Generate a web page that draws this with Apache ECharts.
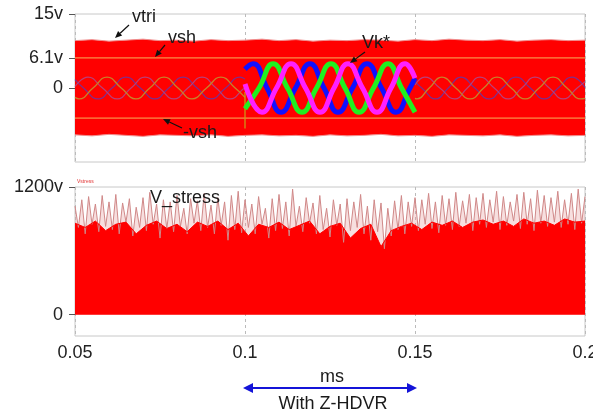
<!DOCTYPE html>
<html>
<head>
<meta charset="utf-8">
<script src="https://cdn.jsdelivr.net/npm/echarts@6/dist/echarts.min.js"></script>
<style>
html, body { margin: 0; padding: 0; background: #fff; }
#main { width: 593px; height: 411px; }
</style>
</head>
<body>
<div id="main"></div>
<script>
// ---- data ----
var xTicks = [0.05, 0.1, 0.15, 0.2];
var topTicks = [0, 6.1, 15];
var topTickNames = { '0': '0', '6.1': '6.1v', '15': '15v' };
var stressTicks = [0, 1200];
var stressTickNames = { '0': '0', '1200': '1200v' };

// carrier (vtri) envelope, one value every 0.005 ms from 0.05
var vtriStart = 0.05, vtriStep = 0.005;
var vtriTop = [9.6, 9.8, 9.5, 9.7, 9.9, 9.6, 9.7, 9.5, 9.8, 9.6, 9.7,
  9.9, 9.6, 9.8, 9.5, 9.7, 9.6, 9.8, 9.7, 9.5, 9.8,
  9.6, 9.9, 9.7, 9.6, 9.8, 9.5, 9.7, 9.8, 9.6, 9.7];
var vtriBottom = [-9.5, -9.7, -9.4, -9.6, -9.8, -9.5, -9.6, -9.7, -9.5, -9.8, -9.6,
  -9.5, -9.7, -9.6, -9.8, -9.5, -9.7, -9.6, -9.4, -9.7, -9.6,
  -9.8, -9.5, -9.6, -9.7, -9.5, -9.8, -9.6, -9.5, -9.7, -9.6];
var vsh = 6.1;

// reference sines before the sag (0.05 - 0.1)
var orangePre = [[0.05, -1.9], [0.0512, -2.2], [0.0553, 0], [0.0594, 2.2], [0.0636, 0], [0.0679, -2.2], [0.0720, 0],
  [0.0762, 2.2], [0.0803, 0], [0.0844, -2.2], [0.0887, 0], [0.0929, 2.2], [0.0971, 0], [0.1, -1.9]];
var purplePre = [[0.05, 1.7], [0.0525, 0], [0.0568, -2.2], [0.0609, 0], [0.0650, 2.2], [0.0692, 0], [0.0735, -2.2],
  [0.0776, 0], [0.0818, 2.2], [0.0859, 0], [0.0900, -2.2], [0.0943, 0], [0.0985, 2.2], [0.1, 1.8]];
var magentaPre = [[0.05, 0.3], [0.0538, 2.2], [0.0581, 0], [0.0624, -2.2], [0.0665, 0], [0.0706, 2.2], [0.0748, 0],
  [0.0791, -2.2], [0.0832, 0], [0.0874, 2.2], [0.0915, 0], [0.0956, -2.2], [0.0998, 0], [0.1, 0.1]];

// reference sines after the sag (0.15 - 0.2)
var orangePost = [[0.15, -2.1], [0.1505, -2.2], [0.1542, 0], [0.1579, 2.2], [0.1620, 0], [0.1662, -2.2], [0.1702, 0],
  [0.1741, 2.2], [0.1783, 0], [0.1824, -2.2], [0.1865, 0], [0.1906, 2.2], [0.1947, 0], [0.1988, -2.2], [0.2, -2.1]];
var purplePost = [[0.15, 1.3], [0.1520, 0], [0.1561, -2.2], [0.1598, 0], [0.1635, 2.2], [0.1676, 0], [0.1718, -2.2],
  [0.1757, 0], [0.1797, 2.2], [0.1839, 0], [0.1880, -2.2], [0.1921, 0], [0.1962, 2.2], [0.2, 0.1]];
var magentaPost = [[0.15, 0.6], [0.1529, 2.2], [0.1573, 0], [0.1617, -2.2], [0.1654, 0], [0.1691, 2.2], [0.1733, 0],
  [0.1774, -2.2], [0.1814, 0], [0.1853, 2.2], [0.1895, 0], [0.1936, -2.2], [0.1977, 0], [0.2, 1.3]];

// Vk* references while Z-HDVR is on (0.1 - 0.15)
var vkBlue = [[0.1, 3.8], [0.10235, 4.9], [0.10647, 0], [0.11059, -4.9], [0.11485, 0], [0.11912, 4.9], [0.12324, 0],
  [0.12735, -4.9], [0.13162, 0], [0.13588, 4.9], [0.14015, 0], [0.14441, -4.9], [0.14853, 0], [0.15, 2]];
var vkGreen = [[0.1, -4.2], [0.10412, 0], [0.10824, 4.9], [0.1125, 0], [0.11676, -4.9], [0.12103, 0], [0.12529, 4.9],
  [0.12941, 0], [0.13353, -4.9], [0.13779, 0], [0.14206, 4.9], [0.14603, 0], [0.15, -4.9]];
var vkPink = [[0.1, 0.8], [0.1050, -4.9], [0.10926, 0], [0.11353, 4.9], [0.11779, 0], [0.12206, -4.9], [0.12618, 0],
  [0.13029, 4.9], [0.13456, 0], [0.13882, -4.9], [0.14294, 0], [0.14706, 4.9], [0.15, 2]];
var stepLine = [[0.1, -0.8], [0.1, -8.2]];

// V_stress spikes, one value every 0.001 ms from 0.05
var stressStart = 0.05, stressStep = 0.001;
var stressPeak = [
  1020, 820, 1080, 760, 1110, 850, 1040, 780, 1120, 830,
  1060, 800, 1130, 760, 1050, 870, 1090, 740, 1010, 820,
  1100, 790, 1150, 850, 1040, 720, 1080, 810, 1060, 780,
  1120, 830, 1000, 760, 1090, 860, 1070, 790, 1140, 820,
  1030, 760, 1100, 840, 1060, 700, 1120, 800, 1160, 770,
  1080, 820, 1040, 760, 1110, 850, 1000, 720, 1090, 790,
  1130, 810, 1060, 740, 1180, 830, 1020, 780, 1100, 860,
  1050, 760, 1120, 800, 1000, 730, 1080, 840, 1040, 680,
  1090, 790, 1060, 820, 1130, 760, 1020, 700, 1080, 780,
  1050, 620, 1000, 740, 1070, 800, 1120, 760, 1060, 830,
  1100, 790, 1080, 850, 1140, 810, 1060, 770, 1120, 840,
  1090, 800, 1150, 830, 1070, 860, 1130, 790, 1100, 850,
  1140, 820, 1080, 870, 1160, 800, 1110, 840, 1060, 880,
  1130, 810, 1150, 850, 1090, 790, 1170, 860, 1120, 830,
  1100, 870, 1160, 820, 1080, 850, 1140, 800, 1180, 860,
  1110
];
// solid part of V_stress, one value every 0.003 ms from 0.05
var fillStart = 0.05, fillStep = 0.003;
var stressFill = [860, 820, 880, 790, 850, 870, 760, 840, 880, 810,
  850, 780, 870, 830, 880, 800, 860, 740, 850, 820,
  870, 800, 840, 880, 760, 830, 860, 720, 810, 850,
  640, 790, 830, 860, 800, 870, 840, 880, 820, 870,
  890, 850, 880, 830, 900, 860, 880, 840, 900, 870, 880];

function pairs(start, step, arr) {
  return arr.map(function (v, i) { return [+(start + i * step).toFixed(4), v]; });
}

var dom = document.getElementById('main');
var myChart = echarts.init(dom);

var fontFam = '"Liberation Sans", Arial, sans-serif';

function ln(data, color, width, gi, extra) {
  var s = {
    type: 'line',
    data: data,
    xAxisIndex: gi,
    yAxisIndex: gi,
    symbol: 'none',
    silent: true,
    lineStyle: { color: color, width: width }
  };
  for (var k in extra) s[k] = extra[k];
  return s;
}

function xAx(gi, showLabel) {
  return {
    type: 'value', gridIndex: gi, min: 0.05, max: 0.2, interval: 0.05,
    axisLine: { show: false },
    axisTick: { show: false },
    axisLabel: {
      show: showLabel, customValues: xTicks, margin: 8,
      color: '#222', fontSize: 18, fontFamily: fontFam,
      formatter: function (v) { return String(+v.toFixed(2)); }
    },
    splitLine: { show: true, lineStyle: { color: '#bbb', type: [3, 3], width: 1 } }
  };
}

function yAx(gi, min, max, ticks, names) {
  return {
    type: 'value', gridIndex: gi, min: min, max: max,
    axisLine: { show: false },
    axisTick: { show: true, customValues: ticks, length: 6, lineStyle: { color: '#555' } },
    axisLabel: {
      customValues: ticks, margin: 12,
      color: '#222', fontSize: 18, fontFamily: fontFam,
      formatter: function (v) { return names[String(v)]; }
    },
    splitLine: { show: false }
  };
}

var option = {
  animation: false,
  backgroundColor: '#fff',
  grid: [
    { left: 75, right: 8, top: 14, height: 148, show: true, borderColor: '#c8c8c8', borderWidth: 1,
      outerBoundsMode: 'none', containLabel: false },
    { left: 75, right: 8, top: 187, height: 149, show: true, borderColor: '#c8c8c8', borderWidth: 1,
      outerBoundsMode: 'none', containLabel: false }
  ],
  xAxis: [xAx(0, false), xAx(1, true)],
  yAxis: [yAx(0, -15, 15, topTicks, topTickNames), yAx(1, -200, 1200, stressTicks, stressTickNames)],
  series: [
    ln(pairs(vtriStart, vtriStep, vtriTop), '#f08c8c', 1, 0, { areaStyle: { color: '#ff0000', opacity: 1 } }),
    ln(pairs(vtriStart, vtriStep, vtriBottom), '#f08c8c', 1, 0, { areaStyle: { color: '#ff0000', opacity: 1 } }),
    ln([[0.05, vsh], [0.2, vsh]], '#f7b25a', 1, 0),
    ln([[0.05, -vsh], [0.2, -vsh]], '#f7b25a', 1, 0),
    ln(purplePre, '#7a3090', 1.2, 0, { smooth: true }),
    ln(magentaPre, '#b8407a', 1.2, 0, { smooth: true }),
    ln(orangePre, '#c8802a', 1.4, 0, { smooth: true }),
    ln(purplePost, '#7a3090', 1.2, 0, { smooth: true }),
    ln(magentaPost, '#b8407a', 1.2, 0, { smooth: true }),
    ln(orangePost, '#c8802a', 1.4, 0, { smooth: true }),
    ln(stepLine, '#c8a21a', 1.2, 0),
    ln(vkBlue, '#1010ff', 5, 0, { smooth: true }),
    ln(vkGreen, '#20f020', 5, 0, { smooth: true }),
    ln(vkPink, '#ff20ff', 5, 0, { smooth: true }),
    ln(pairs(stressStart, stressStep, stressPeak), '#d08888', 1, 1, {
      areaStyle: { color: 'rgba(225,140,140,0.4)' }
    }),
    ln(pairs(fillStart, fillStep, stressFill), '#ff0000', 1, 1, { areaStyle: { color: '#ff0000', opacity: 1 } })
  ]
};
myChart.setOption(option);

// ---- annotations ----
function arrow(x1, y1, x2, y2, color, w, hl, hw) {
  var dx = x2 - x1, dy = y2 - y1, len = Math.sqrt(dx * dx + dy * dy);
  var ux = dx / len, uy = dy / len;
  var bx = x2 - ux * hl, by = y2 - uy * hl;
  return [
    { type: 'line', silent: true, z: 100, shape: { x1: x1, y1: y1, x2: bx, y2: by }, style: { stroke: color, lineWidth: w } },
    { type: 'polygon', silent: true, z: 100, shape: { points: [[x2, y2], [bx - uy * hw, by + ux * hw], [bx + uy * hw, by - ux * hw]] },
      style: { fill: color } }
  ];
}
function label(x, y, text, align, size, color) {
  return { type: 'text', silent: true, z: 100, style: {
    x: x, y: y, text: text, align: align || 'left', verticalAlign: 'middle',
    fontSize: size || 18, fontFamily: fontFam, fill: color || '#1a1a1a' } };
}

var xa = myChart.convertToPixel({ xAxisIndex: 1 }, 0.1);
var xb = myChart.convertToPixel({ xAxisIndex: 1 }, 0.15);
var xm = (xa + xb) / 2;

var g = [];
g.push(label(132, 17, 'vtri'));
g.push(label(168, 38, 'vsh'));
g.push(label(183, 133, '-vsh'));
g.push(label(362, 43, 'Vk*'));
g.push(label(150, 198, 'V_stress'));
g.push(label(77, 182, 'Vstress', 'left', 5, '#e03030'));
g.push(label(xm + 2, 377, 'ms', 'center'));
g.push(label(xm + 3, 404, 'With Z-HDVR', 'center'));
g = g.concat(arrow(129, 25, 115, 38, '#111', 1.2, 7, 3));
g = g.concat(arrow(165, 45, 155, 57, '#111', 1.2, 7, 3));
g = g.concat(arrow(182, 128, 163, 119, '#111', 1.2, 7, 3));
g = g.concat(arrow(365, 52, 350, 63, '#111', 1.2, 7, 3));
g = g.concat(arrow(xm, 388, xa - 2, 388, '#1414d8', 2, 10, 5));
g = g.concat(arrow(xm, 388, xb + 2, 388, '#1414d8', 2, 10, 5));

myChart.setOption({ graphic: g });
</script>
</body>
</html>
